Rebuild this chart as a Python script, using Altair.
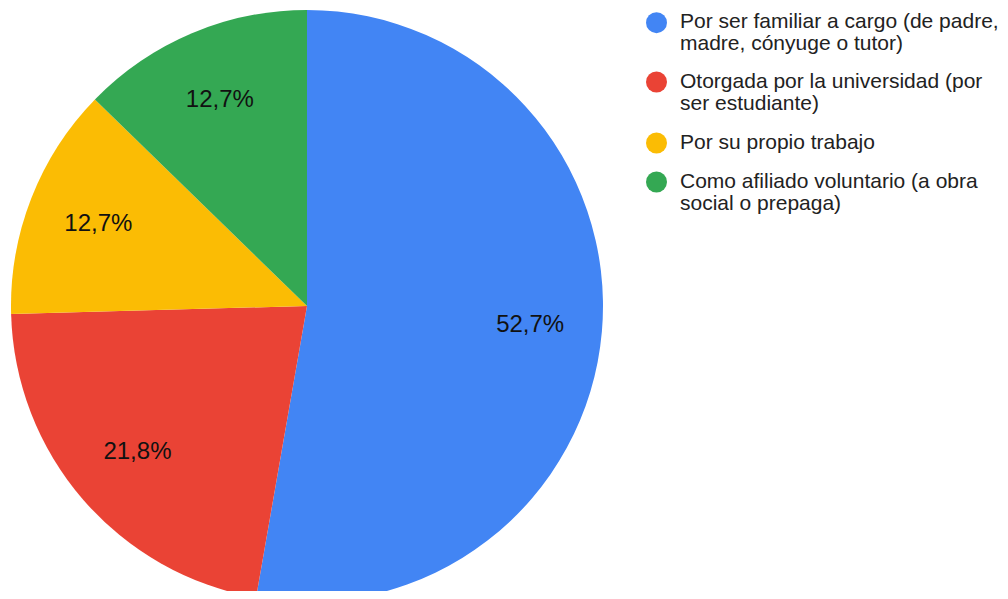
import altair as alt
import pandas as pd

categories = [
    "Por ser familiar a cargo (de padre, madre, cónyuge o tutor)",
    "Otorgada por la universidad (por ser estudiante)",
    "Por su propio trabajo",
    "Como afiliado voluntario (a obra social o prepaga)",
]
legend_lines = [
    "Por ser familiar a cargo (de padre,\nmadre, cónyuge o tutor)",
    "Otorgada por la universidad (por\nser estudiante)",
    "Por su propio trabajo",
    "Como afiliado voluntario (a obra\nsocial o prepaga)",
]
values = [52.7, 21.8, 12.7, 12.7]
colors = ["#4285F4", "#EA4335", "#FBBC04", "#34A853"]

df = pd.DataFrame({
    "categoria": categories,
    "leyenda": legend_lines,
    "valor": values,
    "orden": list(range(len(categories))),
})

CX, CY, R = 299, 298, 296
FONT = "Liberation Sans"

color_scale = alt.Scale(domain=categories, range=colors)

base = alt.Chart(df).encode(
    theta=alt.Theta("valor:Q", stack=True),
    order=alt.Order("orden:Q"),
)

pie = base.mark_arc(outerRadius=R).encode(
    color=alt.Color("categoria:N", scale=color_scale, legend=None),
    x=alt.value(CX),
    y=alt.value(CY),
)

labels = base.transform_calculate(
    etiqueta="replace(format(datum.valor, '.1f'), '.', ',') + '%'"
).mark_text(radius=224, fontSize=24, font=FONT, color="#111111").encode(
    text="etiqueta:N",
    x=alt.value(CX),
    y=alt.value(CY),
)

# legend rows: piecewise scale places entries (two-line entries take more room)
leg_y = alt.Y(
    "orden:Q",
    scale=alt.Scale(domain=[0, 1, 2, 3], range=[14.7, 74, 135, 174]),
    axis=None,
)

leg_sym = alt.Chart(df).mark_circle(size=440, opacity=1).encode(
    x=alt.value(648.5),
    y=leg_y,
    color=alt.Color("categoria:N", scale=color_scale, legend=None),
)

leg_txt = alt.Chart(df).mark_text(
    align="left", baseline="alphabetic", lineBreak="\n", lineHeight=22,
    fontSize=21, font=FONT, color="#222222", dy=5.5,
).encode(
    x=alt.value(672),
    y=leg_y,
    text="leyenda:N",
)

chart = alt.layer(pie, labels, leg_sym, leg_txt).properties(
    width=992, height=583, autosize="none", padding=0,
).configure_view(stroke=None)

chart.save("out.html", embed_options={"renderer": "svg", "actions": False})
